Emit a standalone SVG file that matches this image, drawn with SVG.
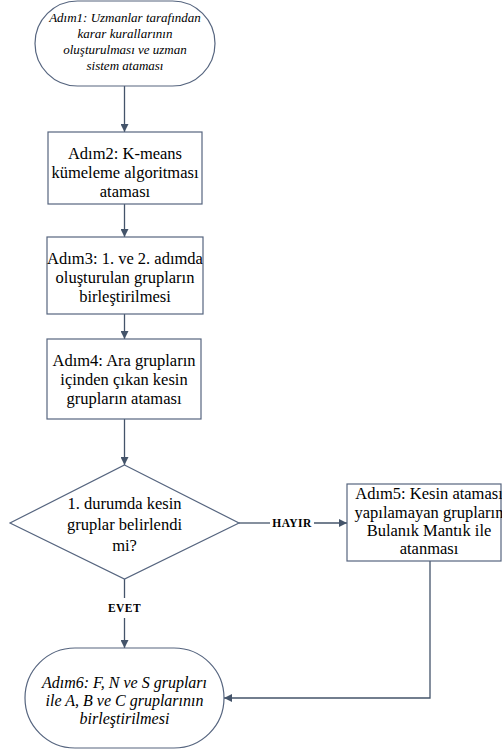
<svg xmlns="http://www.w3.org/2000/svg" width="502" height="749" viewBox="0 0 502 749">
<style>
.shape{fill:#ffffff;stroke:#56657f;stroke-width:1.2}
.conn{fill:none;stroke:#44546a;stroke-width:1.3}
text{font-family:'Liberation Serif','DejaVu Serif',serif;fill:#000;text-anchor:middle}
.t{font-size:16.5px}
.ti{font-style:italic}
.lbl{font-weight:bold;font-size:11.5px;letter-spacing:0.4px}
</style>
<defs>
<marker id="arr" viewBox="0 0 10 10" refX="10" refY="5" markerWidth="8" markerHeight="8" markerUnits="userSpaceOnUse" orient="auto">
<path d="M0,0 L10,5 L0,10 Z" fill="#44546a"/>
</marker>
</defs>
<rect width="502" height="749" fill="#ffffff"/>
<g id="connectors">
<line class="conn" x1="124.5" y1="86" x2="124.5" y2="132" marker-end="url(#arr)"/>
<line class="conn" x1="124.5" y1="204" x2="124.5" y2="237" marker-end="url(#arr)"/>
<line class="conn" x1="124.5" y1="314" x2="124.5" y2="339" marker-end="url(#arr)"/>
<line class="conn" x1="124.5" y1="419" x2="124.5" y2="465" marker-end="url(#arr)"/>
<line class="conn" x1="124.5" y1="579" x2="124.5" y2="598"/>
<line class="conn" x1="124.5" y1="618" x2="124.5" y2="648" marker-end="url(#arr)"/>
<text class="lbl" x="124.5" y="612">EVET</text>
<line class="conn" x1="239" y1="523" x2="270" y2="523"/>
<line class="conn" x1="314" y1="523" x2="347" y2="523" marker-end="url(#arr)"/>
<text class="lbl" x="292" y="527">HAYIR</text>
<polyline class="conn" points="430,561 430,698 224,698" marker-end="url(#arr)"/>
</g>
<g id="n1">
<rect class="shape" x="35" y="1" width="180" height="85" rx="42.5" ry="42.5"/>
<text class="ti" font-size="13" x="125" y="22">Adım1: Uzmanlar tarafından</text>
<text class="ti" font-size="13" x="125" y="38">karar kurallarının</text>
<text class="ti" font-size="13" x="125" y="54">oluşturulması ve uzman</text>
<text class="ti" font-size="13" x="125" y="70">sistem ataması</text>
</g>
<g id="n2">
<rect class="shape" x="48" y="132" width="154" height="72"/>
<text class="t" x="125" y="159">Adım2: K-means</text>
<text class="t" x="125" y="178">kümeleme algoritması</text>
<text class="t" x="125" y="197">ataması</text>
</g>
<g id="n3">
<rect class="shape" x="47" y="237" width="156" height="77"/>
<text class="t" x="125" y="264">Adım3: 1. ve 2. adımda</text>
<text class="t" x="125" y="283">oluşturulan grupların</text>
<text class="t" x="125" y="302">birleştirilmesi</text>
</g>
<g id="n4">
<rect class="shape" x="47" y="339" width="154" height="80"/>
<text class="t" x="124" y="366">Adım4: Ara grupların</text>
<text class="t" x="124" y="385">içinden çıkan kesin</text>
<text class="t" x="124" y="404">grupların ataması</text>
</g>
<g id="n5">
<polygon class="shape" points="124.5,465 239,523 124.5,579 10,523"/>
<text class="t" font-size="16" x="124.5" y="509">1. durumda kesin</text>
<text class="t" font-size="16" x="124.5" y="530">gruplar belirlendi</text>
<text class="t" font-size="16" x="124.5" y="551">mi?</text>
</g>
<g id="n6">
<rect class="shape" x="347" y="484" width="154" height="77"/>
<text class="t" font-size="16" x="429" y="499">Adım5: Kesin ataması</text>
<text class="t" font-size="16" x="429" y="518">yapılamayan grupların</text>
<text class="t" font-size="16" x="429" y="536">Bulanık Mantık ile</text>
<text class="t" font-size="16" x="429" y="554">atanması</text>
</g>
<g id="n7">
<rect class="shape" x="25" y="648" width="199" height="100" rx="50" ry="50"/>
<text class="ti" font-size="16" x="124.5" y="688">Adım6: F, N  ve S grupları</text>
<text class="ti" font-size="16" x="124.5" y="706">ile A, B ve C gruplarının</text>
<text class="ti" font-size="16" x="124.5" y="724">birleştirilmesi</text>
</g>
</svg>
